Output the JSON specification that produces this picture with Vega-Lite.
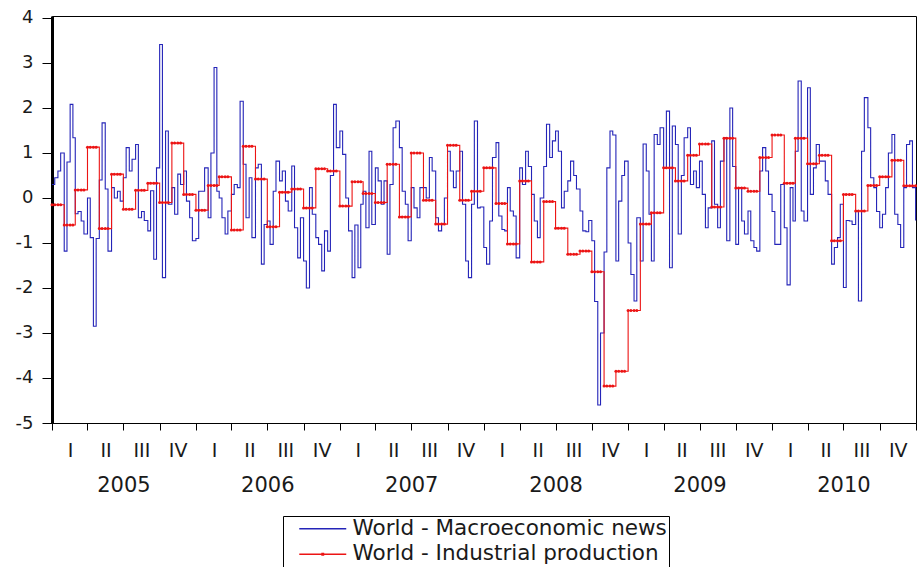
{
"$schema": "https://vega.github.io/schema/vega-lite/v6.json",
"width": 864,
"height": 407,
"autosize": {"type": "none"},
"padding": {"left": 52, "top": 16, "right": 1, "bottom": 144},
"background": "white",
"config": {
  "view": {"stroke": "#000", "strokeWidth": 1},
  "axis": {"labelFont": "DejaVu Sans", "labelColor": "#1a1a1a", "domainColor": "#000", "tickColor": "#000", "grid": false, "title": null}
},
"data": {"values": [
{"d":"2005-01-01","n":0.3,"p":-0.15},{"d":"2005-01-08","n":0.45,"p":-0.15},{"d":"2005-01-16","n":0.6,"p":-0.15},{"d":"2005-01-23","n":1.0,"p":-0.15},
{"d":"2005-02-01","n":-1.18,"p":-0.6},{"d":"2005-02-08","n":0.8,"p":-0.6},{"d":"2005-02-16","n":2.08,"p":-0.6},{"d":"2005-02-23","n":1.34,"p":-0.6},
{"d":"2005-03-01","n":-0.35,"p":0.18},{"d":"2005-03-08","n":-0.3,"p":0.18},{"d":"2005-03-16","n":-0.51,"p":0.18},{"d":"2005-03-23","n":-0.8,"p":0.18},
{"d":"2005-04-01","n":0.0,"p":1.13},{"d":"2005-04-08","n":-0.88,"p":1.13},{"d":"2005-04-16","n":-2.85,"p":1.13},{"d":"2005-04-23","n":-0.9,"p":1.13},
{"d":"2005-05-01","n":0.4,"p":-0.68},{"d":"2005-05-08","n":1.67,"p":-0.68},{"d":"2005-05-16","n":0.2,"p":-0.68},{"d":"2005-05-23","n":-1.18,"p":-0.68},
{"d":"2005-06-01","n":0.23,"p":0.53},{"d":"2005-06-08","n":0.0,"p":0.53},{"d":"2005-06-16","n":0.15,"p":0.53},{"d":"2005-06-23","n":-0.07,"p":0.53},
{"d":"2005-07-01","n":0.45,"p":-0.25},{"d":"2005-07-08","n":1.12,"p":-0.25},{"d":"2005-07-16","n":0.6,"p":-0.25},{"d":"2005-07-23","n":0.86,"p":-0.25},
{"d":"2005-08-01","n":1.19,"p":0.17},{"d":"2005-08-08","n":-0.44,"p":0.17},{"d":"2005-08-16","n":-0.3,"p":0.17},{"d":"2005-08-23","n":-0.5,"p":0.17},
{"d":"2005-09-01","n":-0.73,"p":0.33},{"d":"2005-09-08","n":0.16,"p":0.33},{"d":"2005-09-16","n":-1.36,"p":0.33},{"d":"2005-09-23","n":0.67,"p":0.33},
{"d":"2005-10-01","n":3.41,"p":-0.1},{"d":"2005-10-08","n":-1.77,"p":-0.1},{"d":"2005-10-16","n":1.49,"p":-0.1},{"d":"2005-10-23","n":-0.14,"p":-0.1},
{"d":"2005-11-01","n":0.23,"p":1.22},{"d":"2005-11-08","n":-0.36,"p":1.22},{"d":"2005-11-16","n":0.53,"p":1.22},{"d":"2005-11-23","n":0.3,"p":1.22},
{"d":"2005-12-01","n":0.6,"p":0.08},{"d":"2005-12-08","n":-0.07,"p":0.08},{"d":"2005-12-16","n":-0.44,"p":0.08},{"d":"2005-12-23","n":-0.95,"p":0.08},
{"d":"2006-01-01","n":-0.9,"p":-0.27},{"d":"2006-01-08","n":0.15,"p":-0.27},{"d":"2006-01-16","n":0.15,"p":-0.27},{"d":"2006-01-23","n":0.67,"p":-0.27},
{"d":"2006-02-01","n":-0.44,"p":0.28},{"d":"2006-02-08","n":1.0,"p":0.28},{"d":"2006-02-16","n":2.9,"p":0.28},{"d":"2006-02-23","n":0.15,"p":0.28},
{"d":"2006-03-01","n":0.0,"p":0.47},{"d":"2006-03-08","n":-0.44,"p":0.47},{"d":"2006-03-16","n":-0.8,"p":0.47},{"d":"2006-03-23","n":-0.29,"p":0.47},
{"d":"2006-04-01","n":0.08,"p":-0.71},{"d":"2006-04-08","n":0.3,"p":-0.71},{"d":"2006-04-16","n":0.23,"p":-0.71},{"d":"2006-04-23","n":2.15,"p":-0.71},
{"d":"2006-05-01","n":0.75,"p":1.15},{"d":"2006-05-08","n":-0.44,"p":1.15},{"d":"2006-05-16","n":0.45,"p":1.15},{"d":"2006-05-23","n":-0.88,"p":1.15},
{"d":"2006-06-01","n":0.67,"p":0.42},{"d":"2006-06-08","n":0.75,"p":0.42},{"d":"2006-06-16","n":-1.47,"p":0.42},{"d":"2006-06-23","n":-0.59,"p":0.42},
{"d":"2006-07-01","n":-0.51,"p":-0.64},{"d":"2006-07-08","n":-1.03,"p":-0.64},{"d":"2006-07-16","n":0.15,"p":-0.64},{"d":"2006-07-23","n":0.82,"p":-0.64},
{"d":"2006-08-01","n":0.38,"p":0.13},{"d":"2006-08-08","n":0.6,"p":0.13},{"d":"2006-08-16","n":-0.07,"p":0.13},{"d":"2006-08-23","n":-0.29,"p":0.13},
{"d":"2006-09-01","n":0.71,"p":0.2},{"d":"2006-09-08","n":-0.66,"p":0.2},{"d":"2006-09-16","n":-1.33,"p":0.2},{"d":"2006-09-23","n":-0.44,"p":0.2},
{"d":"2006-10-01","n":-1.4,"p":-0.22},{"d":"2006-10-08","n":-2.0,"p":-0.22},{"d":"2006-10-16","n":0.23,"p":-0.22},{"d":"2006-10-23","n":-0.36,"p":-0.22},
{"d":"2006-11-01","n":-0.88,"p":0.65},{"d":"2006-11-08","n":-1.03,"p":0.65},{"d":"2006-11-16","n":-1.62,"p":0.65},{"d":"2006-11-23","n":-0.73,"p":0.65},
{"d":"2006-12-01","n":-1.18,"p":0.6},{"d":"2006-12-08","n":0.5,"p":0.6},{"d":"2006-12-16","n":2.08,"p":0.6},{"d":"2006-12-23","n":1.12,"p":0.6},
{"d":"2007-01-01","n":1.49,"p":-0.18},{"d":"2007-01-08","n":0.97,"p":-0.18},{"d":"2007-01-16","n":0.0,"p":-0.18},{"d":"2007-01-23","n":-0.73,"p":-0.18},
{"d":"2007-02-01","n":-1.77,"p":0.36},{"d":"2007-02-08","n":-0.6,"p":0.36},{"d":"2007-02-16","n":-1.55,"p":0.36},{"d":"2007-02-23","n":-0.14,"p":0.36},
{"d":"2007-03-01","n":0.15,"p":0.1},{"d":"2007-03-08","n":-0.66,"p":0.1},{"d":"2007-03-16","n":1.04,"p":0.1},{"d":"2007-03-23","n":-0.59,"p":0.1},
{"d":"2007-04-01","n":0.67,"p":-0.1},{"d":"2007-04-08","n":0.38,"p":-0.1},{"d":"2007-04-16","n":-0.14,"p":-0.1},{"d":"2007-04-23","n":0.38,"p":-0.1},
{"d":"2007-05-01","n":-1.25,"p":0.75},{"d":"2007-05-08","n":0.3,"p":0.75},{"d":"2007-05-16","n":1.56,"p":0.75},{"d":"2007-05-23","n":1.71,"p":0.75},
{"d":"2007-06-01","n":1.12,"p":-0.42},{"d":"2007-06-08","n":0.15,"p":-0.42},{"d":"2007-06-16","n":-0.14,"p":-0.42},{"d":"2007-06-23","n":-0.95,"p":-0.42},
{"d":"2007-07-01","n":0.23,"p":1.0},{"d":"2007-07-08","n":-0.22,"p":1.0},{"d":"2007-07-16","n":-0.44,"p":1.0},{"d":"2007-07-23","n":0.23,"p":1.0},
{"d":"2007-08-01","n":0.23,"p":-0.05},{"d":"2007-08-08","n":0.0,"p":-0.05},{"d":"2007-08-16","n":0.9,"p":-0.05},{"d":"2007-08-23","n":0.6,"p":-0.05},
{"d":"2007-09-01","n":-0.44,"p":-0.58},{"d":"2007-09-08","n":-0.73,"p":-0.58},{"d":"2007-09-16","n":-0.59,"p":-0.58},{"d":"2007-09-23","n":0.0,"p":-0.58},
{"d":"2007-10-01","n":1.04,"p":1.17},{"d":"2007-10-08","n":0.6,"p":1.17},{"d":"2007-10-16","n":0.23,"p":1.17},{"d":"2007-10-23","n":0.6,"p":1.17},
{"d":"2007-11-01","n":1.04,"p":-0.05},{"d":"2007-11-08","n":-0.14,"p":-0.05},{"d":"2007-11-16","n":-1.4,"p":-0.05},{"d":"2007-11-23","n":-1.77,"p":-0.05},
{"d":"2007-12-01","n":-0.14,"p":0.15},{"d":"2007-12-08","n":1.71,"p":0.15},{"d":"2007-12-16","n":-0.22,"p":0.15},{"d":"2007-12-23","n":-0.2,"p":0.15},
{"d":"2008-01-01","n":-1.1,"p":0.67},{"d":"2008-01-08","n":-1.47,"p":0.67},{"d":"2008-01-16","n":-0.51,"p":0.67},{"d":"2008-01-23","n":0.9,"p":0.67},
{"d":"2008-02-01","n":1.23,"p":-0.12},{"d":"2008-02-08","n":-0.4,"p":-0.12},{"d":"2008-02-16","n":-0.7,"p":-0.12},{"d":"2008-02-23","n":-0.73,"p":-0.12},
{"d":"2008-03-01","n":0.23,"p":-1.02},{"d":"2008-03-08","n":-0.29,"p":-1.02},{"d":"2008-03-16","n":-0.4,"p":-1.02},{"d":"2008-03-23","n":-1.33,"p":-1.02},
{"d":"2008-04-01","n":0.67,"p":0.38},{"d":"2008-04-08","n":0.3,"p":0.38},{"d":"2008-04-16","n":1.04,"p":0.38},{"d":"2008-04-23","n":0.7,"p":0.38},
{"d":"2008-05-01","n":0.08,"p":-1.42},{"d":"2008-05-08","n":-0.51,"p":-1.42},{"d":"2008-05-16","n":-0.88,"p":-1.42},{"d":"2008-05-23","n":0.0,"p":-1.42},
{"d":"2008-06-01","n":0.7,"p":-0.08},{"d":"2008-06-08","n":1.64,"p":-0.08},{"d":"2008-06-16","n":0.9,"p":-0.08},{"d":"2008-06-23","n":1.27,"p":-0.08},
{"d":"2008-07-01","n":1.49,"p":-0.67},{"d":"2008-07-08","n":1.04,"p":-0.67},{"d":"2008-07-16","n":-0.22,"p":-0.67},{"d":"2008-07-23","n":0.15,"p":-0.67},
{"d":"2008-08-01","n":0.38,"p":-1.25},{"d":"2008-08-08","n":0.82,"p":-1.25},{"d":"2008-08-16","n":0.5,"p":-1.25},{"d":"2008-08-23","n":0.2,"p":-1.25},
{"d":"2008-09-01","n":-0.29,"p":-1.18},{"d":"2008-09-08","n":-0.73,"p":-1.18},{"d":"2008-09-16","n":-0.75,"p":-1.18},{"d":"2008-09-23","n":-0.5,"p":-1.18},
{"d":"2008-10-01","n":-0.95,"p":-1.64},{"d":"2008-10-08","n":-2.3,"p":-1.64},{"d":"2008-10-16","n":-4.6,"p":-1.64},{"d":"2008-10-23","n":-3.0,"p":-1.64},
{"d":"2008-11-01","n":-1.2,"p":-4.18},{"d":"2008-11-08","n":0.67,"p":-4.18},{"d":"2008-11-16","n":1.49,"p":-4.18},{"d":"2008-11-23","n":1.4,"p":-4.18},
{"d":"2008-12-01","n":-1.4,"p":-3.85},{"d":"2008-12-08","n":-0.07,"p":-3.85},{"d":"2008-12-16","n":0.5,"p":-3.85},{"d":"2008-12-23","n":0.82,"p":-3.85},
{"d":"2009-01-01","n":-1.0,"p":-2.5},{"d":"2009-01-08","n":-1.7,"p":-2.5},{"d":"2009-01-16","n":-2.29,"p":-2.5},{"d":"2009-01-23","n":-0.44,"p":-2.5},
{"d":"2009-02-01","n":-1.4,"p":-0.58},{"d":"2009-02-08","n":1.2,"p":-0.58},{"d":"2009-02-16","n":0.6,"p":-0.58},{"d":"2009-02-23","n":-0.36,"p":-0.58},
{"d":"2009-03-01","n":-1.4,"p":-0.33},{"d":"2009-03-08","n":1.41,"p":-0.33},{"d":"2009-03-16","n":1.19,"p":-0.33},{"d":"2009-03-23","n":1.56,"p":-0.33},
{"d":"2009-04-01","n":0.67,"p":0.67},{"d":"2009-04-08","n":1.93,"p":0.67},{"d":"2009-04-16","n":-1.55,"p":0.67},{"d":"2009-04-23","n":1.6,"p":0.67},
{"d":"2009-05-01","n":1.19,"p":0.38},{"d":"2009-05-08","n":-0.8,"p":0.38},{"d":"2009-05-16","n":0.5,"p":0.38},{"d":"2009-05-23","n":1.34,"p":0.38},
{"d":"2009-06-01","n":1.56,"p":0.95},{"d":"2009-06-08","n":0.3,"p":0.95},{"d":"2009-06-16","n":0.6,"p":0.95},{"d":"2009-06-23","n":0.23,"p":0.95},
{"d":"2009-07-01","n":0.82,"p":1.2},{"d":"2009-07-08","n":0.08,"p":1.2},{"d":"2009-07-16","n":-0.66,"p":1.2},{"d":"2009-07-23","n":-0.22,"p":1.2},
{"d":"2009-08-01","n":1.27,"p":-0.2},{"d":"2009-08-08","n":-0.14,"p":-0.2},{"d":"2009-08-16","n":-0.66,"p":-0.2},{"d":"2009-08-23","n":0.82,"p":-0.2},
{"d":"2009-09-01","n":1.34,"p":1.33},{"d":"2009-09-08","n":-0.95,"p":1.33},{"d":"2009-09-16","n":2.0,"p":1.33},{"d":"2009-09-23","n":0.7,"p":1.33},
{"d":"2009-10-01","n":-1.03,"p":0.22},{"d":"2009-10-08","n":0.23,"p":0.22},{"d":"2009-10-16","n":-0.51,"p":0.22},{"d":"2009-10-23","n":-0.8,"p":0.22},
{"d":"2009-11-01","n":-0.29,"p":0.15},{"d":"2009-11-08","n":-0.95,"p":0.15},{"d":"2009-11-16","n":-1.1,"p":0.15},{"d":"2009-11-23","n":-1.18,"p":0.15},
{"d":"2009-12-01","n":0.6,"p":0.9},{"d":"2009-12-08","n":1.12,"p":0.9},{"d":"2009-12-16","n":0.6,"p":0.9},{"d":"2009-12-23","n":0.08,"p":0.9},
{"d":"2010-01-01","n":-0.3,"p":1.4},{"d":"2010-01-08","n":-1.03,"p":1.4},{"d":"2010-01-16","n":-1.03,"p":1.4},{"d":"2010-01-23","n":0.3,"p":1.4},
{"d":"2010-02-01","n":-0.66,"p":0.33},{"d":"2010-02-08","n":-1.93,"p":0.33},{"d":"2010-02-16","n":0.23,"p":0.33},{"d":"2010-02-23","n":-0.51,"p":0.33},
{"d":"2010-03-01","n":1.04,"p":1.33},{"d":"2010-03-08","n":2.6,"p":1.33},{"d":"2010-03-16","n":-0.29,"p":1.33},{"d":"2010-03-23","n":-0.51,"p":1.33},
{"d":"2010-04-01","n":2.45,"p":0.76},{"d":"2010-04-08","n":0.08,"p":0.76},{"d":"2010-04-16","n":0.67,"p":0.76},{"d":"2010-04-23","n":1.19,"p":0.76},
{"d":"2010-05-01","n":0.82,"p":0.95},{"d":"2010-05-08","n":0.82,"p":0.95},{"d":"2010-05-16","n":0.38,"p":0.95},{"d":"2010-05-23","n":0.08,"p":0.95},
{"d":"2010-06-01","n":-1.47,"p":-0.95},{"d":"2010-06-08","n":-1.1,"p":-0.95},{"d":"2010-06-16","n":-0.88,"p":-0.95},{"d":"2010-06-23","n":-0.14,"p":-0.95},
{"d":"2010-07-01","n":-1.99,"p":0.08},{"d":"2010-07-08","n":-0.5,"p":0.08},{"d":"2010-07-16","n":-0.51,"p":0.08},{"d":"2010-07-23","n":-0.59,"p":0.08},
{"d":"2010-08-01","n":-0.29,"p":-0.29},{"d":"2010-08-08","n":-2.29,"p":-0.29},{"d":"2010-08-16","n":1.04,"p":-0.29},{"d":"2010-08-23","n":2.23,"p":-0.29},
{"d":"2010-09-01","n":1.56,"p":0.28},{"d":"2010-09-08","n":0.45,"p":0.28},{"d":"2010-09-16","n":0.23,"p":0.28},{"d":"2010-09-23","n":-0.3,"p":0.28},
{"d":"2010-10-01","n":-0.66,"p":0.47},{"d":"2010-10-08","n":-0.36,"p":0.47},{"d":"2010-10-16","n":0.23,"p":0.47},{"d":"2010-10-23","n":1.0,"p":0.47},
{"d":"2010-11-01","n":1.41,"p":0.84},{"d":"2010-11-08","n":-0.36,"p":0.84},{"d":"2010-11-16","n":-0.59,"p":0.84},{"d":"2010-11-23","n":-1.1,"p":0.84},
{"d":"2010-12-01","n":0.23,"p":0.27},{"d":"2010-12-08","n":1.19,"p":0.27},{"d":"2010-12-16","n":1.27,"p":0.27},{"d":"2010-12-23","n":0.23,"p":0.27},
{"d":"2010-12-31","n":-0.5,"p":0.27}
]},
"layer": [
  {
    "mark": {"type": "line", "interpolate": "step-after", "strokeWidth": 1.1},
    "encoding": {
      "x": {
        "field": "d", "type": "temporal",
        "scale": {"domain": [{"year": 2005, "month": 1, "date": 1}, {"year": 2011, "month": 1, "date": 1}]},
        "axis": {
          "orient": "bottom",
          "values": [
            {"year":2005,"month":1,"date":1},{"year":2005,"month":4,"date":1},{"year":2005,"month":7,"date":1},{"year":2005,"month":10,"date":1},
            {"year":2006,"month":1,"date":1},{"year":2006,"month":4,"date":1},{"year":2006,"month":7,"date":1},{"year":2006,"month":10,"date":1},
            {"year":2007,"month":1,"date":1},{"year":2007,"month":4,"date":1},{"year":2007,"month":7,"date":1},{"year":2007,"month":10,"date":1},
            {"year":2008,"month":1,"date":1},{"year":2008,"month":4,"date":1},{"year":2008,"month":7,"date":1},{"year":2008,"month":10,"date":1},
            {"year":2009,"month":1,"date":1},{"year":2009,"month":4,"date":1},{"year":2009,"month":7,"date":1},{"year":2009,"month":10,"date":1},
            {"year":2010,"month":1,"date":1},{"year":2010,"month":4,"date":1},{"year":2010,"month":7,"date":1},{"year":2010,"month":10,"date":1},
            {"year":2011,"month":1,"date":1}
          ],
          "labelExpr": "year(datum.value) > 2010 ? '' : ['I','II','III','IV'][floor(month(datum.value)/3)]",
          "labelOffset": 18,
          "labelAlign": "center",
          "labelFlush": false,
          "labelOverlap": false,
          "labelBound": false,
          "tickSize": 7,
          "tickWidth": 1,
          "domainWidth": 1,
          "labelPadding": 11,
          "labelFontSize": 19
        }
      },
      "y": {
        "field": "n", "type": "quantitative",
        "scale": {"domain": [-5, 4.044], "nice": false, "zero": false},
        "axis": {
          "values": [-5, -4, -3, -2, -1, 0, 1, 2, 3, 4],
          "labelExpr": "toString(datum.value)",
          "tickSize": 10,
          "labelPadding": 9,
          "labelFontSize": 18,
          "domainWidth": 3,
          "labelFlush": false,
          "labelBound": false
        }
      },
      "color": {
        "datum": "World - Macroeconomic news", "type": "nominal",
        "scale": {"domain": ["World - Macroeconomic news", "World - Industrial production"], "range": ["#2424b8", "#ec1414"]},
        "legend": {
          "orient": "none", "legendX": 231, "legendY": 500,
          "title": null, "direction": "vertical",
          "symbolType": "M-4,0H4",
          "symbolSize": 138, "symbolStrokeWidth": 1.5, "symbolOffset": 27,
          "labelFont": "DejaVu Sans", "labelFontSize": 21.5, "labelColor": "#1a1a1a", "labelOffset": 19, "labelLimit": 500,
          "padding": 2, "rowPadding": 2.5,
          "strokeColor": "#000", "fillColor": "#fff",
          "encode": {
            "symbols": {
              "update": {
                "shape": {"signal": "datum.value === 'World - Industrial production' ? 'M-4,0H4M-0.12,-0.12H0.12V0.12H-0.12Z' : 'M-4,0H4'"}
              }
            }
          }
        }
      }
    }
  },
  {
    "mark": {"type": "line", "interpolate": "step-after", "strokeWidth": 1.1, "point": {"filled": true, "size": 9, "color": "#ec1414"}},
    "encoding": {
      "x": {
        "field": "d", "type": "temporal",
        "axis": {
          "orient": "bottom",
          "values": [
            {"year":2005,"month":7,"date":1},{"year":2006,"month":7,"date":1},{"year":2007,"month":7,"date":1},
            {"year":2008,"month":7,"date":1},{"year":2009,"month":7,"date":1},{"year":2010,"month":7,"date":1}
          ],
          "format": "%Y",
          "ticks": false, "tickSize": 0, "domain": false,
          "labelPadding": 51, "labelFontSize": 21,
          "labelFlush": false, "labelOverlap": false, "labelBound": false
        }
      },
      "y": {"field": "p", "type": "quantitative"},
      "color": {"datum": "World - Industrial production", "type": "nominal"}
    }
  }
],
"resolve": {"axis": {"x": "independent"}}
}
